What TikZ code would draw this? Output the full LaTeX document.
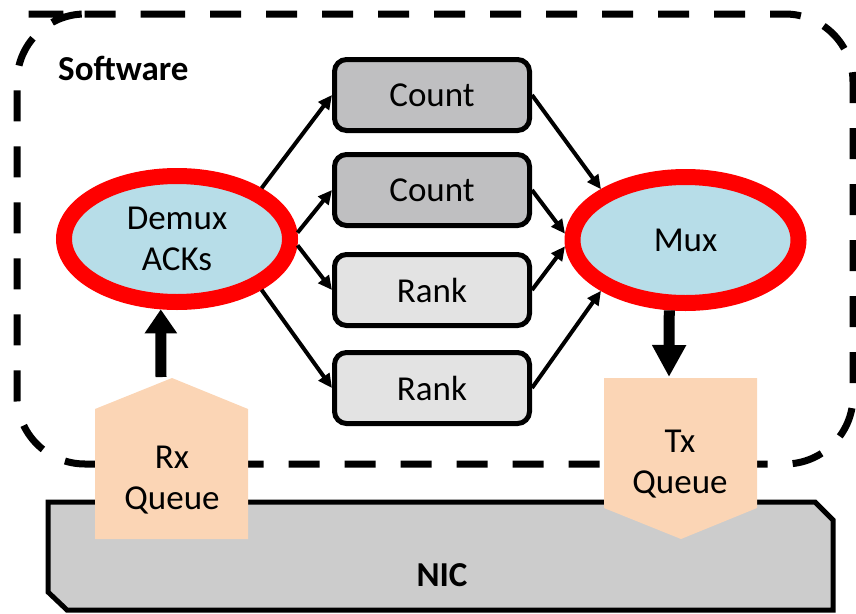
\documentclass[tikz,border=0pt]{standalone}
\usepackage{fontspec}
\setmainfont{Carlito}
\usetikzlibrary{arrows.meta,shapes.geometric}
\definecolor{countgray}{RGB}{191,191,193}
\definecolor{rankgray}{RGB}{227,227,227}
\definecolor{ellblue}{RGB}{183,221,232}
\definecolor{queuepeach}{RGB}{251,213,181}
\definecolor{nicgray}{RGB}{204,204,204}
\begin{document}
\begin{tikzpicture}[x=1pt,y=-1pt,
  txt/.style={font=\fontsize{35pt}{41pt}\selectfont},
  procbox/.style={txt, draw=black, line width=5pt, rounded corners=12pt,
    minimum width=195pt, minimum height=71pt, inner sep=0pt},
  ring/.style={txt, ellipse, draw=red, line width=16pt, fill=ellblue,
    minimum width=226pt, minimum height=126pt, inner sep=0pt, align=center},
  thinarrow/.style={line width=4pt, -{Triangle[length=14pt,width=13pt]}},
  queueshape/.style={fill=queuepeach, draw=none},
  swborder/.style={line width=7pt, dash pattern=on 31pt off 25pt, rounded corners=68pt}
]
\useasboundingbox (0,0) rectangle (856,613);

% NIC
\draw[line width=5pt, fill=nicgray, line join=miter]
  (48,502) -- (815,502) -- (833,520) -- (833,610) -- (67,610) -- (48,592) -- cycle;
\node[txt, font=\fontsize{35pt}{41pt}\selectfont\bfseries] (nic) at (442,575) {NIC};

% Software boundary
\draw[swborder] (86,14) -- (853,14) -- (853,464) -- (17,464) -- (17,14) -- cycle;
\node[txt, anchor=base west, inner sep=0pt, font=\fontsize{35pt}{41pt}\selectfont\bfseries] (sw) at (58,80) {Software};

% processing boxes
\node[procbox, fill=countgray] (c1) at (432,95) {Count};
\node[procbox, fill=countgray] (c2) at (432,190) {Count};
\node[procbox, fill=rankgray] (r1) at (432,290) {Rank};
\node[procbox, fill=rankgray] (r2) at (432,388) {Rank};

% ellipses
\node[ring] (demux) at (177,239) {Demux\\ACKs};
\node[ring] (mux) at (685.5,240) {Mux};

% thin arrows
\draw[thinarrow] (demux.31) -- (c1.west);
\draw[thinarrow] (demux.3) -- (c2.west);
\draw[thinarrow] (demux.-3) -- (r1.west);
\draw[thinarrow] (demux.-31) -- (r2.west);
\draw[thinarrow] (c1.east) -- (mux.149);
\draw[thinarrow] (c2.east) -- (mux.177);
\draw[thinarrow] (r1.east) -- (mux.183);
\draw[thinarrow] (r2.east) -- (mux.211);

% queues
\fill[queueshape] (95,409) -- (172,378) -- (248,409) -- (248,539) -- (95,539) -- cycle;
\coordinate (rxtop) at (161,377);
\node[txt, align=center] (rx) at (172,480) {Rx\\Queue};

\fill[queueshape] (604,378) -- (757,378) -- (757,508) -- (681,539) -- (604,508) -- cycle;
\coordinate (txtop) at (669,377);
\node[txt, align=center] (tx) at (680,464) {Tx\\Queue};

% thick arrows
\draw[line width=11pt, -{Triangle[length=24pt,width=31pt]}] (rxtop) -- (demux.257);
\draw[line width=11pt, -{Triangle[length=32pt,width=32pt]}] (mux.257) -- (txtop);
\end{tikzpicture}
\end{document}
